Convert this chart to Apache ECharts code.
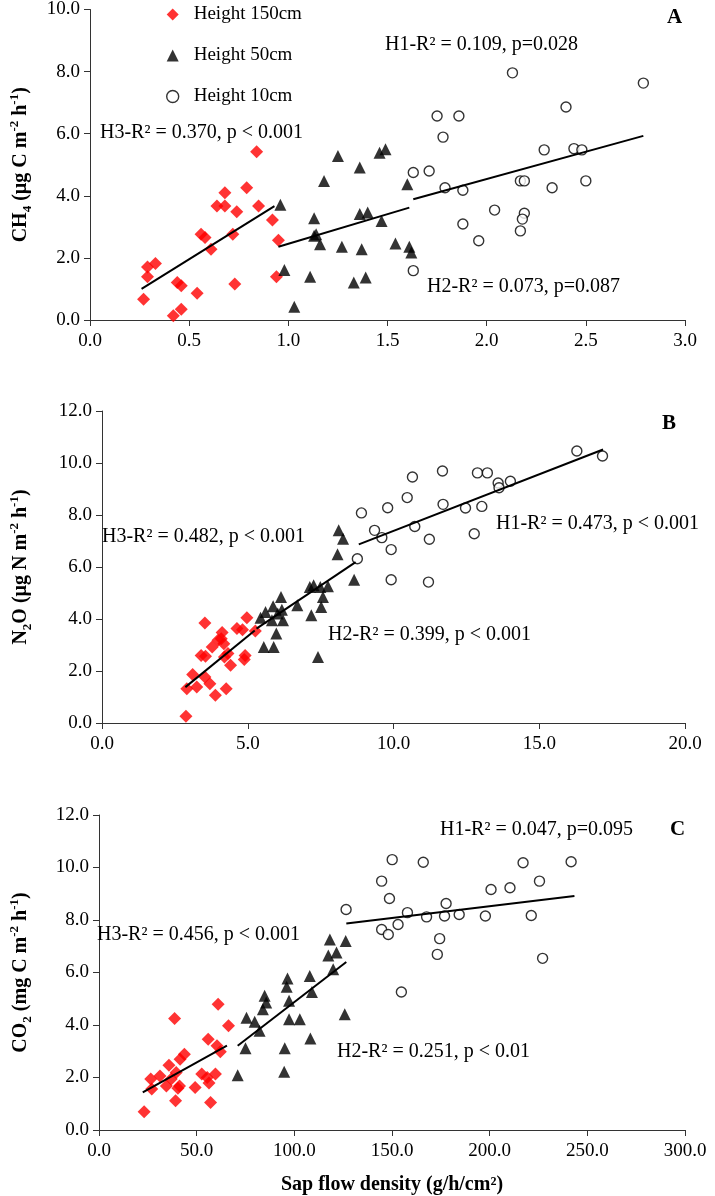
<!DOCTYPE html>
<html>
<head>
<meta charset="utf-8">
<script src="https://cdn.jsdelivr.net/npm/echarts@6.0.0/dist/echarts.min.js"></script>
<style>
  html, body { margin: 0; padding: 0; background: #fff; }
  #main { width: 715px; height: 1196px; }
</style>
</head>
<body>
<div id="main"></div>
<script>
// panel A: CH4 vs sap flow
var a150 = [[0.27,0.67],[0.29,1.39],[0.29,1.71],[0.33,1.82],[0.42,0.14],[0.44,1.21],[0.46,1.10],[0.46,0.35],[0.54,0.86],[0.56,2.76],[0.58,2.66],[0.61,2.28],[0.64,3.67],[0.68,4.10],[0.68,3.67],[0.72,2.76],[0.73,1.16],[0.74,3.49],[0.79,4.26],[0.84,5.42],[0.85,3.67],[0.92,3.22],[0.95,2.57],[0.94,1.39]];
var a50 = [[0.96,3.71],[0.98,1.61],[1.03,0.43],[1.11,1.39],[1.13,3.28],[1.13,2.71],[1.14,2.76],[1.16,2.44],[1.18,4.48],[1.25,5.28],[1.27,2.36],[1.33,1.21],[1.36,4.91],[1.36,3.41],[1.37,2.28],[1.39,1.37],[1.40,3.46],[1.47,3.19],[1.46,5.39],[1.49,5.50],[1.54,2.46],[1.60,4.37],[1.61,2.36],[1.62,2.17]];
var a10 = [[1.63,4.75],[1.71,4.80],[1.63,1.59],[1.75,6.57],[1.78,5.89],[1.79,4.26],[1.86,6.57],[1.88,4.18],[1.88,3.09],[1.96,2.55],[2.04,3.54],[2.13,7.96],[2.17,4.48],[2.19,4.48],[2.19,3.44],[2.18,3.25],[2.17,2.87],[2.29,5.48],[2.33,4.26],[2.40,6.86],[2.44,5.52],[2.48,5.48],[2.50,4.48],[2.79,7.63]];
var aFit150 = [[0.26,1.00],[0.93,3.67]];
var aFit50 = [[0.95,2.36],[1.61,3.62]];
var aFit10 = [[1.63,3.89],[2.79,5.93]];

// panel B: N2O
var b150 = [[2.88,0.26],[2.91,1.32],[3.11,1.87],[3.25,1.38],[3.40,2.60],[3.53,3.85],[3.55,2.57],[3.53,1.77],[3.70,1.51],[3.78,2.92],[3.89,1.07],[3.98,3.18],[4.09,3.24],[4.12,3.48],[4.18,3.05],[4.26,1.32],[4.32,2.67],[4.20,2.54],[4.41,2.22],[4.63,3.63],[4.82,3.59],[4.88,2.44],[4.91,2.60],[4.97,4.05],[5.26,3.54]];
var b50 = [[5.44,4.05],[5.55,2.92],[5.61,4.27],[5.83,3.95],[5.89,2.92],[5.87,4.49],[5.98,3.44],[6.03,4.21],[6.14,4.85],[6.17,4.36],[6.21,3.95],[6.70,4.53],[7.13,5.23],[7.26,5.30],[7.18,4.14],[7.41,2.54],[7.49,5.23],[7.52,4.46],[7.58,4.85],[7.75,5.26],[8.08,6.49],[8.12,7.41],[8.27,7.09],[8.65,5.51]];
var b10 = [[8.76,6.32],[8.90,8.08],[9.35,7.41],[9.60,7.13],[9.80,8.28],[9.92,6.67],[9.92,5.51],[10.47,8.67],[10.65,9.46],[10.73,7.56],[11.20,5.42],[11.23,7.07],[11.68,9.69],[11.70,8.41],[12.47,8.27],[12.77,7.28],[12.88,9.62],[13.22,9.62],[13.03,8.33],[13.59,9.23],[13.62,9.05],[14.01,9.30],[16.29,10.46],[17.17,10.27]];
var bFit150 = [[2.86,1.38],[5.24,3.56]];
var bFit50 = [[5.30,3.63],[8.70,6.19]];
var bFit10 = [[8.81,6.87],[17.19,10.52]];

// panel C: CO2
var c150 = [[23.1,0.70],[26.5,1.94],[27.0,1.56],[31.2,2.06],[34.5,1.68],[35.8,2.47],[37.0,1.94],[38.7,4.25],[39.2,1.11],[39.5,2.19],[40.4,1.59],[41.5,2.70],[41.2,1.68],[43.7,2.89],[49.2,1.62],[52.6,2.13],[55.4,2.00],[55.9,3.46],[56.3,1.79],[57.1,1.05],[59.6,2.13],[60.4,3.21],[61.0,4.79],[62.1,2.98],[66.3,3.97]];
var c50 = [[71.0,2.09],[75.0,3.11],[75.5,4.28],[79.7,4.12],[82.2,3.78],[83.9,4.60],[84.8,5.11],[85.6,4.86],[94.8,2.22],[95.1,3.11],[96.5,5.77],[96.1,5.46],[97.3,4.92],[97.3,4.22],[102.8,4.22],[108.2,3.49],[107.9,5.87],[109.0,5.26],[117.4,6.65],[118.2,7.26],[119.9,6.12],[121.6,6.76],[125.8,4.41],[126.3,7.20]];
var c10 = [[126.5,8.40],[144.7,9.48],[150.1,10.30],[148.7,8.82],[144.7,7.64],[148.1,7.45],[153.1,7.83],[154.8,5.26],[157.9,8.28],[166.0,10.20],[167.7,8.12],[174.4,7.29],[173.2,6.69],[176.9,8.15],[177.7,8.63],[184.4,8.21],[197.8,8.15],[200.7,9.16],[210.4,9.23],[217.1,10.18],[221.3,8.17],[225.5,9.48],[227.1,6.54],[241.7,10.22]];
var cFit150 = [[22.4,1.43],[65.5,3.21]];
var cFit50 = [[71.0,3.21],[126.6,6.40]];
var cFit10 = [[126.6,7.87],[243.4,8.91]];

var groups = ['Height 150cm', 'Height 50cm', 'Height 10cm'];

var FONT = '"Liberation Serif", "Times New Roman", serif';
var axisCol = '#333';

var styles = [
  { symbol: 'diamond', symbolSize: 13, itemStyle: { color: '#ff0000' } },
  { symbol: 'triangle', symbolSize: 12, itemStyle: { color: '#000' } },
  { symbol: 'circle', symbolSize: 10, itemStyle: { color: '#fff', borderColor: '#000', borderWidth: 1.4 } }
];

var richY = {
  b: { fontFamily: FONT, fontWeight: 'bold', fontSize: 20, lineHeight: 26, color: '#000' },
  sub: { fontFamily: FONT, fontWeight: 'bold', fontSize: 13, lineHeight: 26, verticalAlign: 'bottom', color: '#000' },
  sup: { fontFamily: FONT, fontWeight: 'bold', fontSize: 13, lineHeight: 26, verticalAlign: 'top', color: '#000' }
};

function xAx(i, max, step, extra) {
  var ax = {
    gridIndex: i, type: 'value', min: 0, max: max, interval: step,
    splitLine: { show: false },
    axisLine: { onZero: false, lineStyle: { color: axisCol, width: 1 } },
    axisTick: { inside: false, length: 6, lineStyle: { color: axisCol } },
    axisLabel: { fontFamily: FONT, fontSize: 19, color: '#000', margin: 12,
      formatter: function (v) { return v.toFixed(1); } }
  };
  return Object.assign(ax, extra || {});
}
function yAx(i, max, name, gap) {
  return {
    gridIndex: i, type: 'value', min: 0, max: max, interval: 2,
    splitLine: { show: false },
    axisLine: { show: true, lineStyle: { color: axisCol, width: 1 } },
    axisTick: { show: true, length: 6, lineStyle: { color: axisCol } },
    axisLabel: { fontFamily: FONT, fontSize: 19, color: '#000', margin: 10,
      formatter: function (v) { return v.toFixed(1); } },
    name: name, nameLocation: 'middle', nameRotate: 90, nameGap: gap,
    nameTextStyle: { rich: richY }
  };
}

var panels = [
  [a150, a50, a10, aFit150, aFit50, aFit10],
  [b150, b50, b10, bFit150, bFit50, bFit10],
  [c150, c50, c10, cFit150, cFit50, cFit10]
];

var series = [];
panels.forEach(function (p, gi) {
  for (var k = 0; k < 3; k++) {
    series.push(Object.assign({
      name: groups[k], type: 'scatter', xAxisIndex: gi, yAxisIndex: gi, data: p[k], z: 2
    }, styles[k]));
    series.push({
      name: 'fit' + gi + k, type: 'line', xAxisIndex: gi, yAxisIndex: gi, data: p[k + 3],
      symbol: 'none', lineStyle: { color: '#000', width: 2 }, z: 3, silent: true
    });
  }
});

function note(text, x, y, bold, size) {
  return {
    type: 'text', x: x, y: y, z: 10,
    style: { text: text, font: (bold ? 'bold ' : '') + (size || 20) + 'px ' + FONT,
      fill: '#000', verticalAlign: 'middle', align: 'left' }
  };
}

var chart = echarts.init(document.getElementById('main'));
chart.setOption({
  animation: false,
  backgroundColor: '#fff',
  grid: [
    { left: 90, right: 30, top: 8, height: 312 },
    { left: 92, right: 30, top: 411, height: 312 },
    { left: 88, right: 30, top: 815, height: 316 }
  ],
  xAxis: [
    xAx(0, 3, 0.5),
    xAx(1, 20, 5),
    xAx(2, 300, 50, {
      name: 'Sap flow density (g/h/cm²)', nameLocation: 'middle', nameGap: 45,
      nameTextStyle: { fontFamily: FONT, fontWeight: 'bold', fontSize: 20, color: '#000' }
    })
  ],
  yAxis: [
    yAx(0, 10, '{b|CH}{sub|4}{b| (µg C m}{sup|-2}{b| h}{sup|-1}{b|)}', 56),
    yAx(1, 12, '{b|N}{sub|2}{b|O (µg N m}{sup|-2}{b| h}{sup|-1}{b|)}', 68),
    yAx(2, 12, '{b|CO}{sub|2}{b| (mg C m}{sup|-2}{b| h}{sup|-1}{b|)}', 65)
  ],
  legend: {
    orient: 'vertical', left: 161, top: 0, itemGap: 22, itemWidth: 12, itemHeight: 12,
    textStyle: { fontFamily: FONT, fontSize: 19, color: '#000', padding: [0, 0, 0, 10] },
    data: [
      { name: groups[0], icon: 'diamond', itemStyle: { color: '#ff0000' } },
      { name: groups[1], icon: 'triangle', itemStyle: { color: '#000' } },
      { name: groups[2], icon: 'circle', itemStyle: { color: '#fff', borderColor: '#000', borderWidth: 1.4 } }
    ]
  },
  graphic: [
    note('H3-R² = 0.370, p < 0.001', 100, 133),
    note('H1-R² = 0.109, p=0.028', 385, 45),
    note('H2-R² = 0.073, p=0.087', 427, 287),
    note('A', 667, 18, true, 21),
    note('H3-R² = 0.482, p < 0.001', 102, 537),
    note('H1-R² = 0.473, p < 0.001', 496, 524),
    note('H2-R² = 0.399, p < 0.001', 328, 635),
    note('B', 662, 424, true, 21),
    note('H3-R² = 0.456, p < 0.001', 97, 935),
    note('H1-R² = 0.047, p=0.095', 440, 830),
    note('H2-R² = 0.251, p < 0.01', 337, 1052),
    note('C', 670, 830, true, 21)
  ],
  series: series
});
</script>
</body>
</html>
